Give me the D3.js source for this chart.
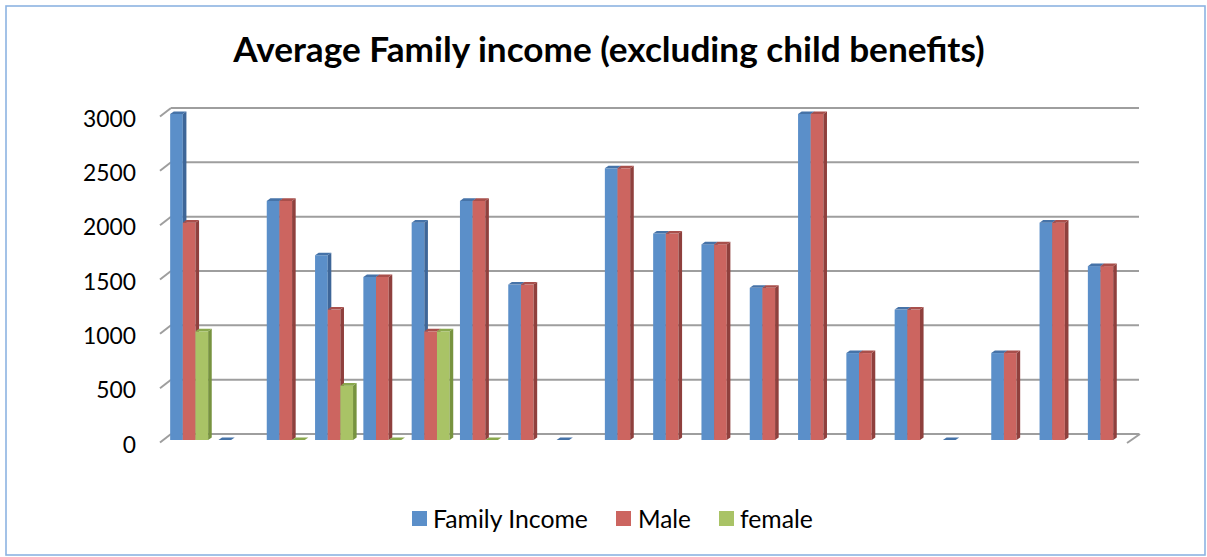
<!DOCTYPE html>
<html><head><meta charset="utf-8">
<script src="https://cdn.jsdelivr.net/npm/d3@7"></script>
<style>body{margin:0;background:#fff}svg{display:block}</style>
</head><body>
<svg id="c" width="1207" height="557"></svg>
<script>
const categories = ["1","2","3","4","5","6","7","8","9","10","11","12","13","14","15","16","17","18","19","20"];
const seriesNames = ["Family Income","Male","female"];
const familyIncome = [3000,0,2200,1700,1500,2000,2200,1430,0,2500,1900,1800,1400,3000,800,1200,0,800,2000,1600];
const male = [2000,null,2200,1200,1500,1000,2200,1430,null,2500,1900,1800,1400,3000,800,1200,null,800,2000,1600];
const female = [1000,null,0,500,0,1000,0,null,null,null,null,null,null,null,null,null,null,null,null,null];
const yTicks = [0,500,1000,1500,2000,2500,3000];
const titleText = "Average Family income (excluding child benefits)";

const seriesValues = [familyIncome, male, female];
const frontCol = ["#5b8fc9","#cc6560","#a9c366"];
const sideCol  = ["#3e6698","#8f403d","#77933f"];
const topCol   = ["#4673a8","#a84f4b","#8aa84e"];
const FONT = "Lato, 'Open Sans', 'DejaVu Sans', sans-serif";

const svg = d3.select("#c");

// outer border
svg.append("rect").attr("x",6).attr("y",6).attr("width",1199).attr("height",549)
  .attr("fill","#fff").attr("stroke","#8db3e2").attr("stroke-width",1.6);

function fit(sel, target){
  const w = sel.node().getComputedTextLength();
  const fs = parseFloat(sel.attr("font-size"));
  sel.attr("font-size", fs*target/w);
}

// title
const t = svg.append("text").attr("x",609).attr("y",62).attr("text-anchor","middle")
  .attr("font-family",FONT).attr("font-weight","bold").attr("font-size",30).attr("fill","#000")
  .text(titleText);
fit(t, 752);

// scales
const x = d3.scaleBand().domain(categories).range([165,1131]).paddingInner(0.2136).paddingOuter(0.1068);
const xs = d3.scaleBand().domain(seriesNames).range([0,x.bandwidth()]);
const y = d3.scaleLinear().domain([0,3000]).range([440,114]);
const backOff = -6, wallX0 = 171, wallX1 = 1139, frontX0 = 160;
const dx = 3.6, dy = -2.6;

// gridlines on back wall + left wall stubs
const grid = svg.append("g");
yTicks.forEach(v=>{
  const yb = y(v)+backOff;
  grid.append("line").attr("x1",wallX0).attr("x2",wallX1).attr("y1",yb).attr("y2",yb)
    .attr("stroke","#9e9e9e").attr("stroke-width",2);
  grid.append("line").attr("x1",frontX0).attr("x2",wallX0).attr("y1",yb+8.5).attr("y2",yb)
    .attr("stroke","#9e9e9e").attr("stroke-width",2);
});
// right floor edge
grid.append("line").attr("x1",1127).attr("x2",wallX1+1).attr("y1",y(0)+backOff+9).attr("y2",y(0)+backOff)
  .attr("stroke","#9e9e9e").attr("stroke-width",2);

// tick labels
const tl = svg.append("g");
yTicks.forEach(v=>{
  const s = tl.append("text").attr("x",136).attr("y",y(v)+12.5).attr("text-anchor","end")
    .attr("font-family",FONT).attr("font-size",22).attr("fill","#000").text(v);
});
// size labels based on "3000"
{
  const probe = tl.selectAll("text").filter(function(){return this.textContent==="3000";});
  const w = probe.node().getComputedTextLength();
  tl.selectAll("text").attr("font-size", 22*53/w);
}

// bars
const bars = svg.append("g");
categories.forEach((c,ci)=>{
  seriesNames.forEach((s,si)=>{
    const v = seriesValues[si][ci];
    if (v === null || v === undefined) return;
    const x0 = x(c)+xs(s), w = xs.bandwidth();
    const yb = y(0), yt = y(v);
    const g = bars.append("g");
    if (v > 0) {
      g.append("rect").attr("x",x0).attr("y",yt).attr("width",w).attr("height",yb-yt).attr("fill",frontCol[si]);
      g.append("path").attr("d",`M${x0+w},${yt}L${x0+w+dx},${yt+dy}L${x0+w+dx},${yb+dy}L${x0+w},${yb}Z`).attr("fill",sideCol[si]);
    }
    g.append("path").attr("d",`M${x0},${yt}L${x0+w},${yt}L${x0+w+dx},${yt+dy}L${x0+dx},${yt+dy}Z`).attr("fill",topCol[si]);
  });
});

// legend
const legX = [412,616,719], txtX = [433,638,740], txtW = [155,53,73];
const leg = svg.append("g");
seriesNames.forEach((s,i)=>{
  leg.append("rect").attr("x",legX[i]).attr("y",511).attr("width",15).attr("height",15).attr("fill",frontCol[i]);
  const tt = leg.append("text").attr("x",txtX[i]).attr("y",527.5).attr("font-family",FONT)
    .attr("font-size",22).attr("fill","#000").text(s);
  fit(tt, txtW[i]);
});
</script>
</body></html>
